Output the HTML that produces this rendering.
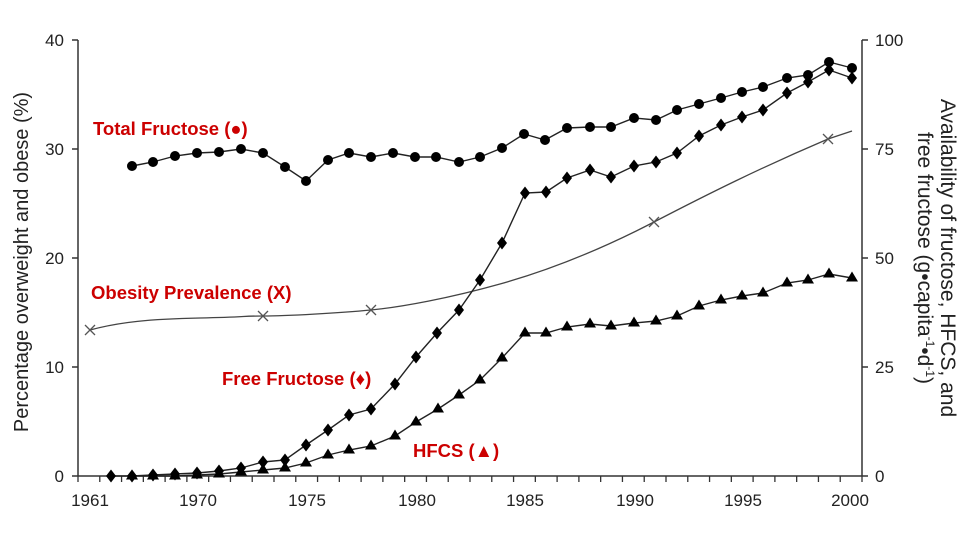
<!DOCTYPE html><html><head><style>body{margin:0;background:#fff}svg{display:block}</style></head><body>
<svg width="975" height="541" xmlns="http://www.w3.org/2000/svg" font-family="Liberation Sans, Arial, sans-serif">
<g stroke="#333" stroke-width="1.5" fill="none">
<line x1="78" y1="40" x2="78" y2="476"/><line x1="862" y1="40" x2="862" y2="476"/><line x1="78" y1="476" x2="862" y2="476"/>
<path d="M72 40H78M72 149H78M72 258H78M72 367H78M72 476H78M862 40H868M862 149H868M862 258H868M862 367H868M862 476H868"/>
</g>
<g id="ticks" stroke="#333" stroke-width="1.3"></g>
<g font-size="17" fill="#222" text-anchor="end">
<text x="64" y="46">40</text><text x="64" y="155">30</text><text x="64" y="264">20</text><text x="64" y="373">10</text><text x="64" y="482">0</text>
</g>
<g font-size="17" fill="#222" text-anchor="start">
<text x="875" y="46">100</text><text x="875" y="155">75</text><text x="875" y="264">50</text><text x="875" y="373">25</text><text x="875" y="482">0</text>
</g>
<g font-size="17" fill="#222" text-anchor="middle">
<text x="90" y="506">1961</text><text x="198" y="506">1970</text><text x="307" y="506">1975</text><text x="417" y="506">1980</text><text x="525" y="506">1985</text><text x="635" y="506">1990</text><text x="743" y="506">1995</text><text x="850" y="506">2000</text>
</g>
<text transform="translate(28,262) rotate(-90)" font-size="20" fill="#222" text-anchor="middle">Percentage overweight and obese (%)</text>
<text transform="translate(941,258) rotate(90)" font-size="21" fill="#222" text-anchor="middle">Availability of fructose, HFCS, and</text>
<text transform="translate(918,258) rotate(90)" font-size="21" fill="#222" text-anchor="middle">free fructose (g•capita<tspan font-size="12" dy="-8">-1</tspan><tspan dy="8">•d</tspan><tspan font-size="12" dy="-8">-1</tspan><tspan dy="8">)</tspan></text>
<g font-size="18.5" font-weight="bold" fill="#cc0000">
<text x="93" y="135">Total Fructose (●)</text>
<text x="91" y="299">Obesity Prevalence (X)</text>
<text x="222" y="385">Free Fructose (♦)</text>
<text x="413" y="457">HFCS (▲)</text>
</g>
<path d="M90 330 C120 322,150 319,200 318 S240 316,263 316 S340 313,371 310 S450 298,500 284 S600 250,654 222 S760 168,828 139 L852 131" fill="none" stroke="#444" stroke-width="1.3"/>
<g stroke="#555" stroke-width="1.3">
<path d="M85 325l10 10M95 325l-10 10M258 311l10 10M268 311l-10 10M366 305l10 10M376 305l-10 10M649 217l10 10M659 217l-10 10M823 134l10 10M833 134l-10 10"/>
</g>
<g id="series"></g>
<script>
var NS="http://www.w3.org/2000/svg";
var t=document.getElementById("ticks");
for(var i=0;i<=36;i++){var x=78+i*784/36;var l=document.createElementNS(NS,"line");l.setAttribute("x1",x);l.setAttribute("x2",x);l.setAttribute("y1",476);l.setAttribute("y2",482);t.appendChild(l);}
var c=[[132,166],[153,162],[175,156],[197,153],[219,152],[241,149],[263,153],[285,167],[306,181],[328,160],[349,153],[371,157],[393,153],[415,157],[436,157],[459,162],[480,157],[502,148],[524,134],[545,140],[567,128],[590,127],[611,127],[634,118],[656,120],[677,110],[699,104],[721,98],[742,92],[763,87],[787,78],[808,75],[829,62],[852,68]];
var d=[[111,476],[132,476],[153,475],[175,474],[197,473],[219,471],[241,468],[263,462],[285,460],[306,445],[328,430],[349,415],[371,409],[395,384],[416,357],[437,333],[459,310],[480,280],[502,243],[525,193],[546,192],[567,178],[590,170],[611,177],[634,166],[656,162],[677,153],[699,136],[721,125],[742,117],[763,110],[787,93],[808,82],[829,70],[852,78]];
var tr=[[132,476],[153,476],[175,476],[197,475],[219,474],[241,472],[263,470],[285,468],[306,463],[328,455],[349,450],[371,446],[395,436],[416,422],[438,409],[459,395],[480,380],[502,358],[525,333],[546,333],[567,327],[590,324],[611,326],[634,323],[656,321],[677,316],[699,306],[721,300],[742,296],[763,293],[787,283],[808,280],[829,274],[852,278]];
var g=document.getElementById("series");
function line(p){var e=document.createElementNS(NS,"polyline");e.setAttribute("points",p.map(function(a){return a.join(",")}).join(" "));e.setAttribute("fill","none");e.setAttribute("stroke","#222");e.setAttribute("stroke-width","1.4");g.appendChild(e);}
line(c);line(d);line(tr);
function path(dd){var e=document.createElementNS(NS,"path");e.setAttribute("d",dd);e.setAttribute("fill","#000");g.appendChild(e);}
c.forEach(function(p){var e=document.createElementNS(NS,"circle");e.setAttribute("cx",p[0]);e.setAttribute("cy",p[1]);e.setAttribute("r",5);e.setAttribute("fill","#000");g.appendChild(e);});
d.forEach(function(p){path("M"+p[0]+" "+(p[1]-6.5)+"l5 6.5l-5 6.5l-5 -6.5z");});
tr.forEach(function(p){path("M"+p[0]+" "+(p[1]-6.5)+"l6 10h-12z");});
</script>
</svg></body></html>
